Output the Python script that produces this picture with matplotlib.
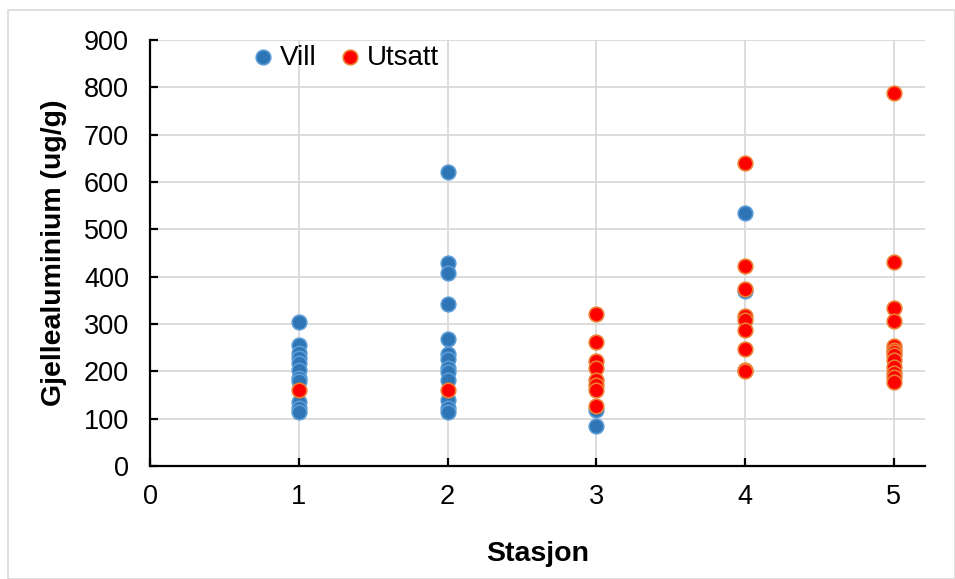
import matplotlib
matplotlib.use("Agg")
import matplotlib.pyplot as plt
from matplotlib.patches import Rectangle

plt.rcParams['font.family'] = ['Liberation Sans', 'DejaVu Sans']

vill_x = [1]*11 + [2]*13 + [3]*2 + [4]*2
vill_y = [304, 256, 239, 228, 218, 203, 186, 180, 136, 123, 115,
          621, 429, 408, 342, 268, 237, 226, 207, 198, 182, 140, 122, 115,
          119, 85,
          534, 370]
uts_x = [1] + [2] + [3]*8 + [4]*9 + [5]*13
uts_y = [160,
         161,
         322, 262, 221, 207, 182, 172, 160, 126,
         640, 422, 373, 316, 309, 287, 247, 202, 200,
         789, 431, 333, 306, 253, 246, 240, 235, 224, 210, 196, 188, 177]

xticks = [0, 1, 2, 3, 4, 5]
yticks = list(range(0, 1000, 100))

fig = plt.figure(figsize=(9.55, 5.79), dpi=100)
ax = fig.add_axes([150/955, 1-466/579, (925-150)/955, (466-40)/579])

ax.scatter(vill_x, vill_y, s=110, c='#2E75B6', edgecolors='#5B9BD5', linewidths=1.2,
           label='Vill', zorder=3)
ax.scatter(uts_x, uts_y, s=110, c='#FF0000', edgecolors='#ED7D31', linewidths=1.2,
           label='Utsatt', zorder=4)

ax.set_xlim(0, 5.21)
ax.set_ylim(0, 900)
ax.set_xticks(xticks)
ax.set_yticks(yticks)
ax.grid(True, color='#D9D9D9', linewidth=1.3, zorder=0)
ax.set_axisbelow(True)
for s in ['top', 'right']:
    ax.spines[s].set_visible(False)
for s in ['left', 'bottom']:
    ax.spines[s].set_linewidth(1.6)
    ax.spines[s].set_color('black')
ax.tick_params(axis='both', direction='in', length=6, width=1.6, labelsize=19.5, colors='black')
ax.tick_params(axis='x', pad=13)
ax.tick_params(axis='y', pad=15)
ax.set_xlabel('Stasjon', fontsize=20.5, fontweight='bold', labelpad=22)
ax.set_ylabel('Gjellealuminium (ug/g)', fontsize=20.5, fontweight='bold', labelpad=12)

leg = ax.legend(loc='upper left', bbox_to_anchor=(0.11, 1.015), ncol=2, frameon=False,
                fontsize=20, handletextpad=0.0, columnspacing=0.6, markerscale=1.0,
                borderaxespad=0, handlelength=1.2)

fig.patches.append(Rectangle((8/955, 0), 1-8/955 - 0.5/955, 1-10/579, transform=fig.transFigure,
                             fill=False, edgecolor='#D9D9D9', linewidth=1.2))

fig.savefig('out.png', dpi=100)
